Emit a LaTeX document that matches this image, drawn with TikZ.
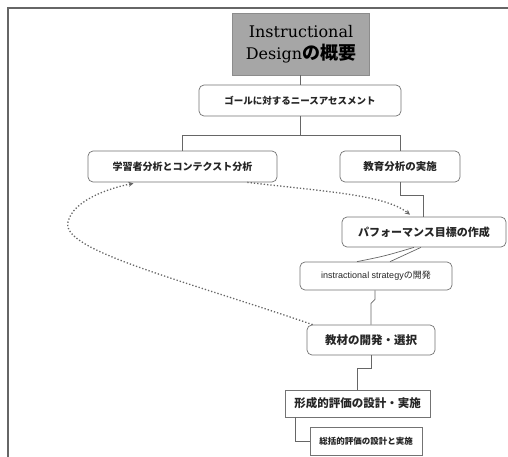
\documentclass[tikz,border=0pt]{standalone}
\usepackage{fontspec}
\setmainfont{Liberation Sans}
\newfontfamily\jp{Noto Sans CJK JP}
\newfontfamily\ttlfont{DejaVu Serif}
\usetikzlibrary{arrows.meta}
\begin{document}
\begin{tikzpicture}[x=1pt,y=-1pt,
  box/.style={draw=black!55, line width=0.7pt, rounded corners=5pt, fill=white, inner sep=0pt,
    font=\jp\bfseries\fontsize{10.5}{13}\selectfont, text=black!85},
  sqbox/.style={box, rounded corners=0pt},
  conn/.style={draw=black!60, line width=0.7pt},
  dots/.style={draw=black!60, line width=1.3pt, dotted, -{Stealth[length=5pt,width=5pt]}},
  frame/.style={draw=black!60, line width=2pt}
]
\useasboundingbox (0,0) rectangle (508,457);
\draw[frame] (8,457) -- (8,8) -- (508,8);

\node[draw=black!45, fill=black!35, minimum width=137, minimum height=62, inner sep=0pt,
      align=center, text=black, font=\ttlfont\fontsize{16}{22}\selectfont] (title) at (301,44)
  {Instructional\\Design{\jp\bfseries\fontsize{18}{22}\selectfont の概要}};

\node[box, minimum width=202, minimum height=31, font=\jp\bfseries\fontsize{9.5}{13}\selectfont] (goal) at (300,100.5) {ゴールに対するニースアセスメント};
\node[box, minimum width=189, minimum height=31, font=\jp\bfseries\fontsize{10}{13}\selectfont] (learner) at (182.5,166.5) {学習者分析とコンテクスト分析};
\node[box, minimum width=120, minimum height=31] (edu) at (400,166.5) {教育分析の実施};
\node[box, minimum width=164, minimum height=30, font=\jp\bfseries\fontsize{11}{13}\selectfont] (perf) at (424,232) {パフォーマンス目標の作成};
\node[box, minimum width=152, minimum height=28, font=\fontsize{9}{11}\selectfont] (strat) at (376,276) {instractional strategy{\jp の開発}};
\node[box, minimum width=128, minimum height=30, font=\jp\bfseries\fontsize{11.5}{13}\selectfont] (mat) at (371,340) {教材の開発・選択};
\node[sqbox, minimum width=145, minimum height=27, font=\jp\bfseries\fontsize{11.5}{13}\selectfont] (form) at (357.5,403.5) {形成的評価の設計・実施};
\node[sqbox, minimum width=112, minimum height=28, font=\jp\bfseries\fontsize{8.5}{11}\selectfont] (summ) at (366,441) {総括的評価の設計と実施};

% connectors
\draw[conn] (title.south -| goal.north) -- (goal.north);
\draw[conn] (goal.south) -- ++(0,19) coordinate (br);
\draw[conn] (learner.north) |- (br) -| (edu.north);
\draw[conn] (edu.south) -- ++(0,13) -| ([xshift=-1pt]perf.north);
\draw[conn] ([xshift=-3pt]perf.south) -- ([xshift=14pt]strat.north);
\draw[conn] ([xshift=-10pt]perf.south) .. controls (385,256) .. ([xshift=-19pt]strat.north);
\draw[conn] ([xshift=-1pt]strat.south) -- ++(0,9) -- ++(-4,4) -- (mat.north);
\draw[conn] (mat.south) -- ++(0,13) -| (form.north);
\draw[conn] ([xshift=11pt]form.south west) |- (summ.west);

% dotted feedback arrows
\draw[dots] ([xshift=-30pt]learner.south east) .. controls (330,192) and (385,195) .. ([xshift=-14pt,yshift=2pt]perf.north);
\draw[dots] ([xshift=6pt]mat.north west) .. controls (180,279) and (60,250) .. (68,222)
  .. controls (73,200) and (110,188) .. ([xshift=-49pt,yshift=-1pt]learner.south);
\end{tikzpicture}
\end{document}
